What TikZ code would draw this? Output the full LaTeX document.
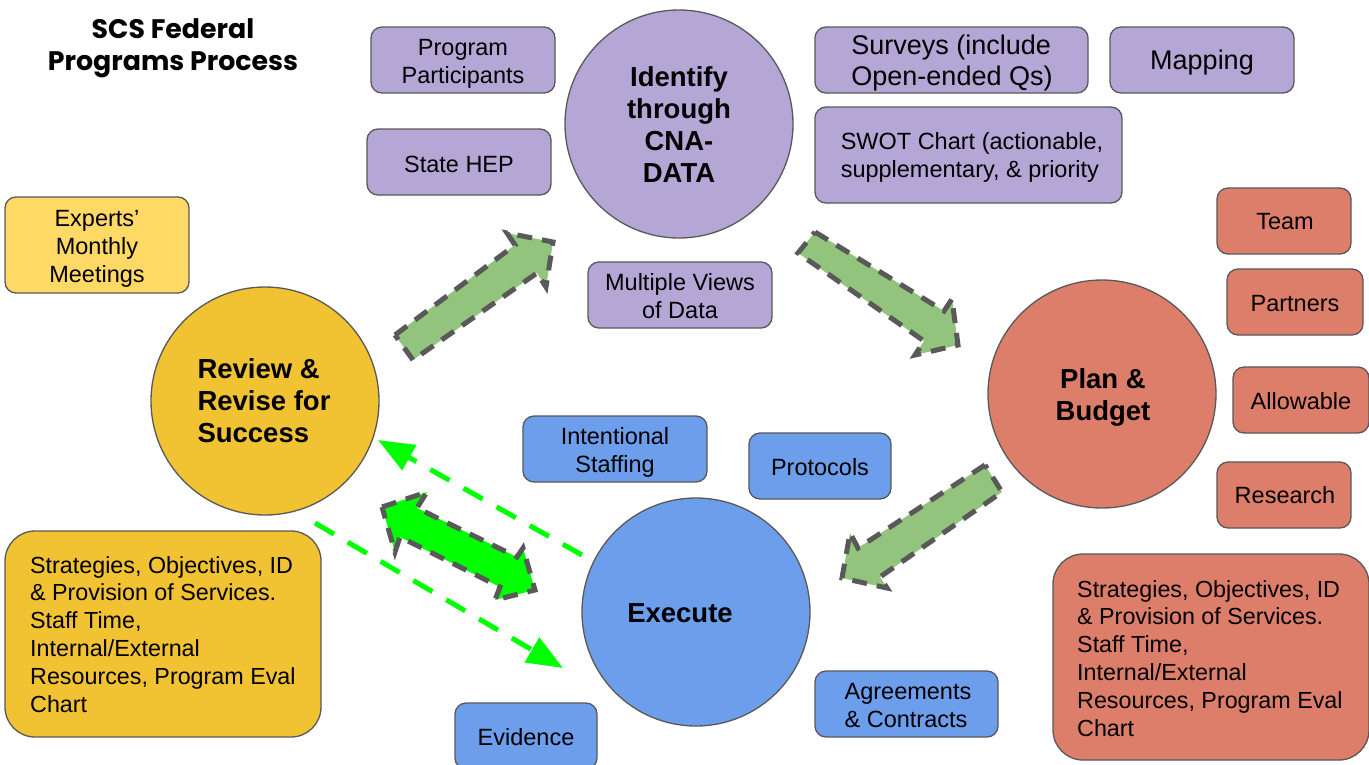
\documentclass[tikz,border=0pt]{standalone}
\usepackage{fontspec}
\setmainfont{Liberation Sans}
\newfontfamily\titlefont{Poppins}
\usetikzlibrary{arrows.meta}

\definecolor{lilac}{HTML}{B4A7D6}
\definecolor{salmon}{HTML}{DD7E6B}
\definecolor{gold}{HTML}{F1C232}
\definecolor{paleyellow}{HTML}{FFD966}
\definecolor{skyblue}{HTML}{6D9EEB}
\definecolor{sage}{HTML}{93C47D}
\definecolor{lime}{HTML}{00FF00}
\definecolor{edge}{HTML}{595959}

\tikzset{
  x=1pt, y=-1pt,
  stage/.style={circle, draw=edge, line width=1.3pt, minimum size=228pt, inner sep=0pt},
  stagetext/.style={font=\bfseries\fontsize{27.5}{32}\selectfont, inner sep=0pt},
  box/.style={draw=edge, line width=1.3pt, rounded corners=11pt, inner sep=0pt},
  boxtext/.style={inner sep=0pt, align=center, font=\fontsize{23.5}{28}\selectfont},
  bigtext/.style={boxtext, font=\fontsize{27}{31}\selectfont},
  bigbox/.style={draw=edge, line width=1.3pt, rounded corners=30pt, inner sep=0pt},
  bodytext/.style={inner sep=0pt, align=left, anchor=north west,
    font=\fontsize{23.3}{27.8}\selectfont},
  blockarrow/.style={draw=edge, line width=5pt, dash pattern=on 15pt off 10pt,
    line join=miter},
  loopline/.style={draw=lime, line width=5pt, dash pattern=on 22pt off 16pt,
    -{Triangle[length=36pt,width=28pt]}},
}

\begin{document}
\begin{tikzpicture}
\useasboundingbox[fill=white] (0,0) rectangle (1369,764);

% title
\node[inner sep=0pt, align=center, font=\titlefont\bfseries\fontsize{26.8}{32}\selectfont]
  (title) at (173,48) {SCS Federal\\Programs Process};

% the four stages
\node[stage, fill=lilac] (identify) at (679,124) {};
\node[stagetext, align=center] (identifyt) at (679,125) {Identify\\through\\CNA-\\DATA};
\node[stage, fill=salmon] (plan) at (1102,394) {};
\node[stagetext, align=center] (plant) at (1103,397) {Plan \&\\Budget};
\node[stage, fill=skyblue] (execute) at (696,612) {};
\node[stagetext] (executet) at (680,613) {Execute};
\node[stage, fill=gold] (review) at (265,401) {};
\node[stagetext, align=left] (reviewt) at (264,401) {Review \&\\Revise for\\Success};

% data sources
\node[box, fill=lilac, minimum width=184pt, minimum height=66pt] (participants) at (463,60) {};
\node[boxtext] (participantst) at (463,64) {Program\\Participants};
\node[box, fill=lilac, minimum width=184pt, minimum height=66pt] (hep) at (459,162) {};
\node[boxtext] (hept) at (459,164) {State HEP};
\node[box, fill=lilac, minimum width=273pt, minimum height=66pt] (surveys) at (951.5,60) {};
\node[bigtext, align=left] (surveyst) at (952,63.5) {Surveys (include\\Open-ended Qs)};
\node[box, fill=lilac, minimum width=184pt, minimum height=66pt] (mapping) at (1202,60) {};
\node[bigtext] (mappingt) at (1202,63) {Mapping};
\node[box, fill=lilac, minimum width=307pt, minimum height=96pt] (swot) at (968.5,155) {};
\node[boxtext, align=left] (swott) at (972,157)
  {SWOT Chart (actionable,\\supplementary, \& priority};
\node[box, fill=lilac, minimum width=184pt, minimum height=66pt] (views) at (680,295) {};
\node[boxtext] (viewst) at (680,296.5) {Multiple Views\\of Data};

% review support
\node[box, fill=paleyellow, minimum width=184pt, minimum height=96pt] (experts) at (97,245) {};
\node[boxtext] (expertst) at (97,249) {Experts’\\Monthly\\Meetings};
\node[bigbox, fill=gold, minimum width=316pt, minimum height=206pt] (ybox) at (163,634) {};
\node[bodytext] (ytext) at (30,556) {Strategies, Objectives, ID\\\& Provision of Services.\\Staff Time,\\Internal/External\\Resources, Program Eval\\Chart};

% planning items
\node[box, fill=salmon, minimum width=134pt, minimum height=66pt] (team) at (1284,221) {};
\node[boxtext] (teamt) at (1285,222) {Team};
\node[box, fill=salmon, minimum width=136pt, minimum height=66pt] (partners) at (1295,302) {};
\node[boxtext] (partnerst) at (1295,304) {Partners};
\node[box, fill=salmon, minimum width=136pt, minimum height=66pt] (allowable) at (1301,400) {};
\node[boxtext] (allowablet) at (1301,401) {Allowable};
\node[box, fill=salmon, minimum width=134pt, minimum height=66pt] (research) at (1284,495) {};
\node[boxtext] (researcht) at (1285,495.5) {Research};
\node[bigbox, fill=salmon, minimum width=316pt, minimum height=206pt] (rbox) at (1211,657) {};
\node[bodytext] (rtext) at (1077,580) {Strategies, Objectives, ID\\\& Provision of Services.\\Staff Time,\\Internal/External\\Resources, Program Eval\\Chart};

% execution items
\node[box, fill=skyblue, minimum width=184pt, minimum height=66pt] (staffing) at (615,449) {};
\node[boxtext] (staffingt) at (615,452) {Intentional\\Staffing};
\node[box, fill=skyblue, minimum width=142pt, minimum height=66pt] (protocols) at (820,466) {};
\node[boxtext] (protocolst) at (820,467) {Protocols};
\node[box, fill=skyblue, minimum width=183pt, minimum height=66pt] (agreements) at (906.5,704) {};
\node[boxtext, align=left] (agreementst) at (908,706) {Agreements\\\& Contracts};
\node[box, fill=skyblue, minimum width=142pt, minimum height=66pt] (evidence) at (526,736) {};
\node[boxtext] (evidencet) at (526,737) {Evidence};

% block arrows between the stages
\filldraw[blockarrow, fill=sage] (395,335) -- (515,245) -- (507,233) -- (553,242)
  -- (546,287) -- (537,273) -- (413,360) -- cycle;
\filldraw[blockarrow, fill=sage] (815,232) -- (944,311) -- (952,299) -- (958,345)
  -- (915,355) -- (924,341) -- (798,253) -- cycle;
\filldraw[blockarrow, fill=sage] (985,465) -- (858,548) -- (850,533) -- (842,578)
  -- (887,588) -- (880,577) -- (1002,492) -- cycle;
\filldraw[blockarrow, fill=lime] (382,507) -- (427,492) -- (417,508) -- (517,557)
  -- (523,548) -- (535,590) -- (495,600) -- (500,587) -- (400,537) -- (395,552) -- cycle;

% feedback loop between review and execution
\coordinate (exeout) at (582,555);
\coordinate (revin) at (378,440);
\coordinate (revout) at (315,523);
\coordinate (exein) at (563,668);
\draw[loopline] (exeout) -- (revin);
\draw[loopline] (revout) -- (exein);
\end{tikzpicture}
\end{document}
